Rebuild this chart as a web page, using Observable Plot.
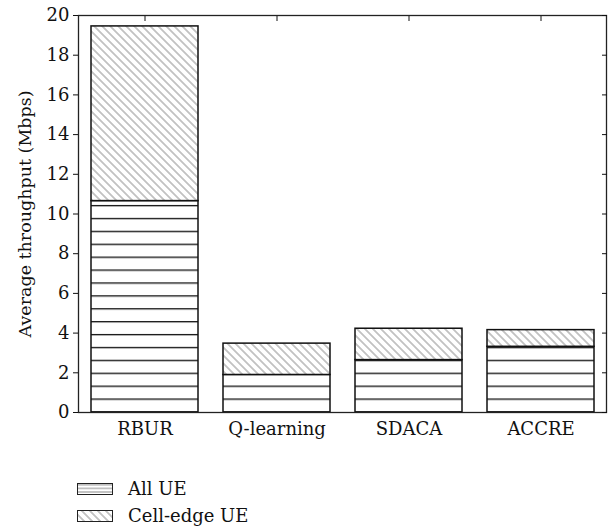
<!DOCTYPE html>
<html>
<head>
<meta charset="utf-8">
<script src="https://cdn.jsdelivr.net/npm/d3@7"></script>
<script src="https://cdn.jsdelivr.net/npm/@observablehq/plot@0.6"></script>
<style>
  body { margin: 0; background: #fff; font-family: "DejaVu Serif", serif; }
  #legend { margin-top: 5px; padding-left: 77px; font-size: 18px; color: #111; }
  .row { display: flex; align-items: center; height: 27px; }
  .row svg { margin-right: 15px; }
  #chart svg text { font-family: "DejaVu Serif", serif; }
</style>
</head>
<body>
<svg width="0" height="0" style="position:absolute">
  <defs>
    <pattern id="hatchH" patternUnits="userSpaceOnUse" width="10" height="12.9" patternTransform="translate(0,411.35)">
      <rect width="10" height="12.9" fill="#fff"></rect>
      <line x1="0" x2="10" y1="0.65" y2="0.65" stroke="#151515" stroke-width="1.4"></line>
    </pattern>
    <pattern id="hatchD" patternUnits="userSpaceOnUse" width="5.66" height="10" patternTransform="rotate(-45)">
      <rect width="5.66" height="10" fill="#fff"></rect>
      <line x1="2.83" x2="2.83" y1="0" y2="10" stroke="#7a7a7a" stroke-width="0.9"></line>
    </pattern>
    <pattern id="legH" patternUnits="userSpaceOnUse" width="10" height="3.6">
      <rect width="10" height="3.6" fill="#fff"></rect>
      <line x1="0" x2="10" y1="1.8" y2="1.8" stroke="#777" stroke-width="0.9"></line>
    </pattern>
  </defs>
</svg>
<div id="chart"></div>
<div id="legend"></div>
<script>
const methods = ["RBUR", "Q-learning", "SDACA", "ACCRE"];
const allUE = [10.65, 1.89, 2.64, 3.31];
const cellEdgeUE = [8.8, 1.58, 1.58, 0.84];
const series = ["All UE", "Cell-edge UE"];
const yTicks = [0, 2, 4, 6, 8, 10, 12, 14, 16, 18, 20];
const patterns = ["url(#hatchH)", "url(#hatchD)"];
const legendPatterns = ["url(#legH)", "url(#hatchD)"];

const rows = [];
methods.forEach((m, i) => {
  rows.push({method: m, series: series[0], value: allUE[i]});
  rows.push({method: m, series: series[1], value: cellEdgeUE[i]});
});

const chart = Plot.plot({
  width: 609,
  height: 470,
  marginTop: 15,
  marginBottom: 58,
  marginLeft: 78,
  marginRight: 3,
  style: {fontFamily: "DejaVu Serif, serif", fontSize: "18px", color: "#111", background: "#fff"},
  x: {domain: methods, paddingInner: 0.19, paddingOuter: 0.095},
  y: {domain: [0, 20]},
  color: {domain: series, range: patterns},
  marks: [
    Plot.barY(rows, {x: "method", y: "value", fill: "series", stroke: "#111", strokeWidth: 1.5}),
    Plot.frame({stroke: "#222", strokeWidth: 1.3}),
    Plot.axisY({anchor: "left", ticks: yTicks, tickSize: 5, tickPadding: 4, label: null}),
    Plot.axisY({anchor: "left", ticks: [], tickSize: 0, fontSize: 17.5, label: "Average throughput (Mbps)", labelAnchor: "center", labelArrow: "none", labelOffset: 60, dy: -5}),
    Plot.axisY({anchor: "right", ticks: yTicks, tickSize: 5, dx: -5, tickFormat: () => "", label: null}),
    Plot.axisX({anchor: "top", tickSize: 5, dy: 5, tickFormat: () => "", label: null}),
    Plot.axisX({anchor: "bottom", tickSize: 0, tickPadding: 10, label: null})
  ]
});
document.getElementById("chart").appendChild(chart);

const legend = document.getElementById("legend");
series.forEach((s, i) => {
  const row = document.createElement("div");
  row.className = "row";
  row.innerHTML = `<svg width="36" height="12"><rect x="0.5" y="0.5" width="35" height="11" fill="${legendPatterns[i]}" stroke="#222" stroke-width="1"></rect></svg><span>${s}</span>`;
  legend.appendChild(row);
});
</script>
</body>
</html>
